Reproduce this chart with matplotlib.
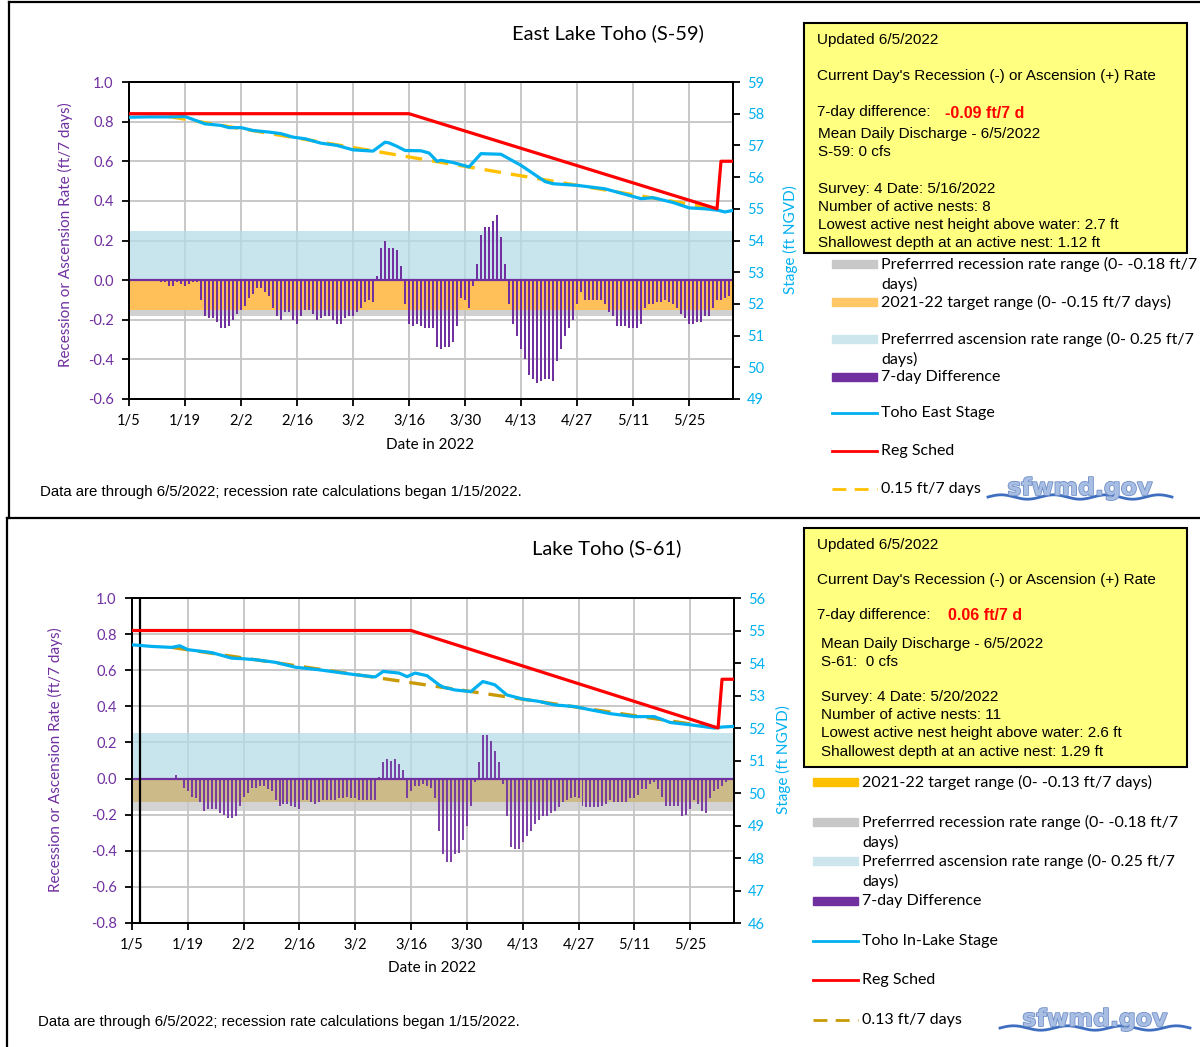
import numpy as np
import pandas as pd
import matplotlib
matplotlib.use("Agg")
import matplotlib.pyplot as plt
from matplotlib.patches import Rectangle
from matplotlib.lines import Line2D
import matplotlib.patheffects as pe

# ---- East Lake Toho (S-59) ----
east_rate_start = "2022-01-13"
east_rate = [-0.01, -0.01, -0.03, -0.03, -0.01, -0.02, -0.03, -0.02, -0.01, -0.01,
             -0.10, -0.18, -0.19, -0.19, -0.21, -0.24, -0.24, -0.23, -0.20, -0.17,
             -0.15, -0.13, -0.09, -0.07, -0.04, -0.04, -0.06, -0.08, -0.14, -0.18,
             -0.20, -0.16, -0.16, -0.20, -0.22, -0.18, -0.15, -0.15, -0.17, -0.20,
             -0.19, -0.18, -0.18, -0.20, -0.22, -0.22, -0.19, -0.18, -0.18, -0.16,
             -0.14, -0.11, -0.10, -0.11, 0.02, 0.16, 0.20, 0.16, 0.16, 0.15,
             0.07, -0.12, -0.22, -0.23, -0.22, -0.23, -0.24, -0.24, -0.24, -0.34,
             -0.35, -0.34, -0.34, -0.31, -0.23, -0.09, -0.10, -0.14, -0.03, 0.08,
             0.23, 0.27, 0.27, 0.30, 0.33, 0.22, 0.08, -0.12, -0.22, -0.28,
             -0.35, -0.40, -0.48, -0.50, -0.52, -0.51, -0.50, -0.50, -0.51, -0.41,
             -0.35, -0.28, -0.24, -0.20, -0.12, -0.06, -0.10, -0.10, -0.10, -0.10,
             -0.10, -0.12, -0.16, -0.18, -0.23, -0.23, -0.23, -0.24, -0.24, -0.24,
             -0.22, -0.14, -0.12, -0.12, -0.11, -0.11, -0.10, -0.11, -0.12, -0.14,
             -0.17, -0.19, -0.22, -0.22, -0.21, -0.21, -0.18, -0.18, -0.14, -0.10,
             -0.10, -0.09, -0.08, -0.09]
east_stage_dates = ["1/5", "1/10", "1/15", "1/19", "1/24", "1/28", "1/30", "2/2", "2/5",
                    "2/9", "2/12", "2/15", "2/18", "2/22", "2/26", "3/2", "3/7", "3/10",
                    "3/11", "3/13", "3/15", "3/19", "3/21", "3/23", "3/24", "3/27", "3/31",
                    "4/3", "4/8", "4/13", "4/19", "4/21", "4/27", "5/4", "5/11", "5/13",
                    "5/16", "5/21", "5/25", "5/29", "6/1", "6/3", "6/5"]
east_stage = [57.89, 57.90, 57.90, 57.91, 57.68, 57.63, 57.56, 57.56, 57.47,
              57.42, 57.37, 57.26, 57.21, 57.07, 57.00, 56.86, 56.82, 57.10,
              57.08, 56.97, 56.84, 56.83, 56.76, 56.50, 56.53, 56.46, 56.32,
              56.74, 56.72, 56.37, 55.86, 55.79, 55.74, 55.63, 55.39, 55.32,
              55.35, 55.20, 55.03, 55.00, 54.96, 54.90, 54.95]
east_reg_dates = ["1/5", "3/16", "6/1", "6/2", "6/5"]
east_reg = [58.0, 58.0, 55.0, 56.5, 56.5]
east_ref_dates = ["1/15", "6/1"]
east_ref = [57.91, 55.0]

# ---- Lake Toho (S-61) ----
toho_rate_start = "2022-01-14"
toho_rate = [-0.01, -0.01, 0.02, -0.01, -0.05, -0.07, -0.10, -0.11, -0.13, -0.18,
             -0.17, -0.17, -0.17, -0.19, -0.20, -0.22, -0.22, -0.21, -0.15, -0.10,
             -0.08, -0.05, -0.05, -0.04, -0.04, -0.06, -0.07, -0.12, -0.15, -0.14,
             -0.14, -0.15, -0.16, -0.17, -0.12, -0.12, -0.13, -0.14, -0.13, -0.12,
             -0.12, -0.12, -0.12, -0.11, -0.11, -0.10, -0.11, -0.11, -0.12, -0.12,
             -0.12, -0.12, -0.12, 0.01, 0.09, 0.11, 0.10, 0.11, 0.08, 0.05,
             -0.11, -0.07, -0.04, -0.04,
             -0.03, -0.04, -0.05, -0.11, -0.29, -0.42, -0.46, -0.46, -0.42, -0.41,
             -0.34, -0.26, -0.15, -0.02, 0.09, 0.24, 0.24, 0.21, 0.15, 0.09,
             -0.03, -0.21, -0.38, -0.39, -0.39, -0.35, -0.32, -0.29, -0.25, -0.23,
             -0.21, -0.21, -0.19, -0.18, -0.16, -0.13, -0.12, -0.11, -0.10, -0.11,
             -0.15, -0.16, -0.16, -0.16, -0.16, -0.15, -0.14, -0.12, -0.13, -0.13,
             -0.13, -0.13, -0.11, -0.11, -0.09, -0.06, -0.06, -0.03, -0.02, -0.06,
             -0.10, -0.15, -0.15, -0.15, -0.15, -0.21, -0.20, -0.17, -0.12, -0.14,
             -0.18, -0.19, -0.11, -0.07, -0.06, -0.04, -0.02, -0.01, 0.06]
toho_stage_dates = ["1/5", "1/10", "1/15", "1/17", "1/19", "1/25", "1/30", "2/2", "2/5",
                    "2/10", "2/15", "2/21", "3/2", "3/7", "3/9", "3/13", "3/15", "3/17",
                    "3/20", "3/23", "3/24", "3/27", "3/31", "4/3", "4/6", "4/9", "4/13",
                    "4/17", "4/21", "4/26", "4/30", "5/5", "5/11", "5/16", "5/20", "5/25",
                    "5/31", "6/2", "6/5"]
toho_stage = [54.56, 54.51, 54.48, 54.53, 54.41, 54.32, 54.15, 54.13, 54.10,
              54.02, 53.87, 53.79, 53.64, 53.57, 53.74, 53.69, 53.58, 53.69,
              53.61, 53.33, 53.26, 53.17, 53.12, 53.43, 53.33, 53.02, 52.89,
              52.82, 52.71, 52.66, 52.56, 52.44, 52.35, 52.35, 52.17, 52.10,
              52.00, 52.03, 52.05]
toho_reg_dates = ["1/5", "3/16", "6/1", "6/2", "6/5"]
toho_reg = [55.0, 55.0, 52.0, 53.5, 53.5]
toho_ref_dates = ["1/15", "6/1"]
toho_ref = [54.48, 52.0]

tick_dates = ["1/5", "1/19", "2/2", "2/16", "3/2", "3/16", "3/30", "4/13", "4/27", "5/11", "5/25"]

PURPLE = "#7030A0"
BLUE = "#00B0F0"
RED = "#FF0000"
CHART_FONT = "Lato"
BOX_FONT = "Liberation Sans"

W, H = 1200, 1047
fig = plt.figure(figsize=(W / 100, H / 100), dpi=100)


def fx(x):
    return x / W


def fy(y):
    return 1 - y / H


def to_dates(md):
    return pd.to_datetime(["2022/" + s for s in md], format="%Y/%m/%d")


def draw_chart(rect, title, title_xy, rate_start, rate, stage_dates, stage, reg_dates, reg,
               ref_dates, ref, ref_color, rlim, slim, bands, bar_alpha, marker_line=None):
    ax = fig.add_axes(rect)
    ax.set_axisbelow(True)
    for lo, hi, c, a in bands:
        ax.axhspan(lo, hi, color=c, alpha=a, lw=0, zorder=1)
    days = pd.date_range(rate_start, periods=len(rate), freq="D")
    ax.bar(days, rate, width=0.5, color=PURPLE, alpha=bar_alpha, zorder=3)
    ax.axhline(0, color=PURPLE, lw=1.6, zorder=4)
    if marker_line:
        ax.axvline(pd.Timestamp(marker_line), color="black", lw=1.6, zorder=5)

    ax.set_xlim(pd.Timestamp("2022-01-05"), pd.Timestamp("2022-06-05"))
    ax.set_ylim(*rlim)
    ax.set_yticks(np.round(np.arange(rlim[0], rlim[1] + 0.01, 0.2), 1))
    ax.yaxis.set_major_formatter(plt.FuncFormatter(lambda v, p: f"{round(v, 1) + 0.0:.1f}"))
    ax.set_xticks(to_dates(tick_dates))
    ax.set_xticklabels(tick_dates)
    ax.grid(True, color="#C4C4C4", lw=1.3)
    ax.tick_params(axis="x", direction="out", length=5, width=1.3, labelsize=10.5, pad=6)
    ax.tick_params(axis="y", direction="out", length=5, width=1.3, labelsize=10.5,
                   labelcolor=PURPLE, pad=6)
    for lab in ax.get_xticklabels() + ax.get_yticklabels():
        lab.set_fontfamily(CHART_FONT)
    for sp in ax.spines.values():
        sp.set_linewidth(1.4)
        sp.set_color("black")

    axs = ax.twinx()
    axs.plot(to_dates(ref_dates), ref, color=ref_color, lw=2.4, dashes=(5, 3), zorder=3)
    axs.plot(to_dates(stage_dates), stage, color=BLUE, lw=2.3, zorder=4)
    axs.plot(to_dates(reg_dates), reg, color=RED, lw=2.3, zorder=5)
    axs.set_ylim(*slim)
    axs.set_yticks(np.arange(slim[0], slim[1] + 1, 1))
    axs.tick_params(axis="y", direction="out", length=5, width=1.3, labelsize=10.5,
                    labelcolor=BLUE, pad=5)
    for lab in axs.get_yticklabels():
        lab.set_fontfamily(CHART_FONT)
    for sp in axs.spines.values():
        sp.set_linewidth(1.4)

    fig.text(fx(title_xy[0]), fy(title_xy[1]), title, ha="center", va="center",
             fontsize=14.5, family=CHART_FONT)
    return ax, axs


FOOTNOTE = "Data are through 6/5/2022; recession rate calculations began 1/15/2022."

# top chart
draw_chart([fx(129), fy(399), (733 - 129) / W, (399 - 82) / H],
           "East Lake Toho (S-59)", (608, 33),
           east_rate_start, east_rate, east_stage_dates, east_stage,
           east_reg_dates, east_reg, east_ref_dates, east_ref, "#FFC000",
           (-0.6, 1.0), (49, 59),
           [(-0.18, 0.0, "#C2C2C2", 0.75), (-0.15, 0.0, "#FFC05A", 1.0),
            (0.0, 0.25, "#B6DBE6", 0.75)], 1.0)
fig.text(fx(65), fy(235), "Recession or Ascension Rate (ft/7 days)", rotation=90,
         ha="center", va="center", color=PURPLE, fontsize=11, family=CHART_FONT)
fig.text(fx(790), fy(240), "Stage (ft NGVD)", rotation=90, ha="center", va="center",
         color=BLUE, fontsize=11, family=CHART_FONT)
fig.text(fx(430), fy(445), "Date in 2022", ha="center", va="center", fontsize=11,
         family=CHART_FONT)
fig.text(fx(40), fy(492), FOOTNOTE, ha="left", va="center", fontsize=10.8, family=BOX_FONT)

# bottom chart
draw_chart([fx(132), fy(923), (734 - 132) / W, (923 - 598) / H],
           "Lake Toho (S-61)", (607, 548),
           toho_rate_start, toho_rate, toho_stage_dates, toho_stage,
           toho_reg_dates, toho_reg, toho_ref_dates, toho_ref, "#C99A06",
           (-0.8, 1.0), (46, 56),
           [(-0.18, 0.0, "#C8C8C8", 0.8), (-0.13, 0.0, "#CDB985", 0.95),
            (0.0, 0.25, "#B6DBE6", 0.75)], 0.9,
           marker_line="2022-01-07")
fig.text(fx(55), fy(760), "Recession or Ascension Rate (ft/7 days)", rotation=90,
         ha="center", va="center", color=PURPLE, fontsize=11, family=CHART_FONT)
fig.text(fx(783), fy(760), "Stage (ft NGVD)", rotation=90, ha="center", va="center",
         color=BLUE, fontsize=11, family=CHART_FONT)
fig.text(fx(432), fy(968), "Date in 2022", ha="center", va="center", fontsize=11,
         family=CHART_FONT)
fig.text(fx(38), fy(1022), FOOTNOTE, ha="left", va="center", fontsize=10.8, family=BOX_FONT)


# yellow info boxes
def info_box(top, bottom, lines, red_value, red_xy):
    fig.patches.append(Rectangle((fx(804), fy(bottom)), (1187 - 804) / W, (bottom - top) / H,
                                 transform=fig.transFigure, facecolor="#FFFF80",
                                 edgecolor="black", lw=1.5))
    for x, y, s in lines:
        fig.text(fx(x), fy(y), s, ha="left", va="center", fontsize=11, family=BOX_FONT)
    fig.text(fx(red_xy[0]), fy(red_xy[1]), red_value, ha="left", va="center", fontsize=11.5,
             fontweight="bold", color=RED, family=BOX_FONT)


info_box(23, 253, [
    (817, 40, "Updated 6/5/2022"),
    (817, 76, "Current Day's Recession (-) or Ascension (+) Rate"),
    (817, 112, "7-day difference:"),
    (818, 134, "Mean Daily Discharge - 6/5/2022"),
    (818, 152, "S-59: 0 cfs"),
    (818, 189, "Survey: 4 Date: 5/16/2022"),
    (818, 207, "Number of active nests: 8"),
    (818, 225, "Lowest active nest height above water: 2.7 ft"),
    (818, 243, "Shallowest depth at an active nest: 1.12 ft"),
], "-0.09 ft/7 d", (945, 114))

info_box(528, 767, [
    (817, 545, "Updated 6/5/2022"),
    (817, 580, "Current Day's Recession (-) or Ascension (+) Rate"),
    (817, 615, "7-day difference:"),
    (821, 644, "Mean Daily Discharge - 6/5/2022"),
    (821, 662, "S-61:  0 cfs"),
    (821, 697, "Survey: 4 Date: 5/20/2022"),
    (821, 715, "Number of active nests: 11"),
    (821, 733, "Lowest active nest height above water: 2.6 ft"),
    (821, 752, "Shallowest depth at an active nest: 1.29 ft"),
], "0.06 ft/7 d", (948, 615))


# legends
def legend(x0, entries):
    for kind, y, color, texts in entries:
        if kind == "patch":
            fig.patches.append(Rectangle((fx(x0), fy(y + 4)), 45 / W, 8 / H,
                                         transform=fig.transFigure, color=color))
        else:
            fig.lines.append(Line2D([fx(x0), fx(x0 + 45)], [fy(y), fy(y)],
                                    transform=fig.transFigure, color=color, lw=2,
                                    dashes=(5, 3) if kind == "dash" else (None, None)))
        for i, t in enumerate(texts):
            fig.text(fx(x0 + 49), fy(y + i * 20.5), t, ha="left", va="center",
                     fontsize=11.5, family=CHART_FONT)


legend(832, [
    ("patch", 264, "#C8C8C8", ["Preferrred recession rate range (0- -0.18 ft/7", "days)"]),
    ("patch", 302, "#FFC766", ["2021-22 target range (0- -0.15 ft/7 days)"]),
    ("patch", 339, "#CDE6EE", ["Preferrred ascension rate range (0- 0.25 ft/7", "days)"]),
    ("patch", 377, PURPLE, ["7-day Difference"]),
    ("line", 413, BLUE, ["Toho East Stage"]),
    ("line", 451, RED, ["Reg Sched"]),
    ("dash", 489, "#FFC000", ["0.15 ft/7 days"]),
])
legend(813, [
    ("patch", 782, "#FFC000", ["2021-22 target range (0- -0.13 ft/7 days)"]),
    ("patch", 822, "#C8C8C8", ["Preferrred recession rate range (0- -0.18 ft/7", "days)"]),
    ("patch", 861, "#CDE6EE", ["Preferrred ascension rate range (0- 0.25 ft/7", "days)"]),
    ("patch", 901, PURPLE, ["7-day Difference"]),
    ("line", 941, BLUE, ["Toho In-Lake Stage"]),
    ("line", 980, RED, ["Reg Sched"]),
    ("dash", 1020, "#C99A06", ["0.13 ft/7 days"]),
])


# sfwmd.gov logo
def logo(xc, y, x0, x1):
    fig.text(fx(xc), fy(y), "sfwmd.gov", ha="center", va="center", fontsize=17,
             fontweight="bold", color="#A9BEE3", family="DejaVu Sans",
             path_effects=[pe.withStroke(linewidth=1.2, foreground="#6F8FC8")])
    t = np.linspace(0, 1, 200)
    wave_x = fx(x0) + t * (x1 - x0) / W
    wave_y = fy(y + 9) + 2.2 / H * np.sin(t * 7 * np.pi)
    fig.lines.append(Line2D(wave_x, wave_y, transform=fig.transFigure, color="#3F6EC0", lw=2))


logo(1080, 488, 988, 1172)
logo(1095, 1019, 1000, 1190)

# panel frames
for xs, ys in [([9, 9], [2, 518]), ([9, 1200], [2, 2]), ([7, 1200], [518, 518]),
               ([7, 7], [518, 1047])]:
    fig.lines.append(Line2D([fx(v) for v in xs], [fy(v) for v in ys],
                            transform=fig.transFigure, color="black", lw=1.6))

fig.savefig("out.png", dpi=100)
